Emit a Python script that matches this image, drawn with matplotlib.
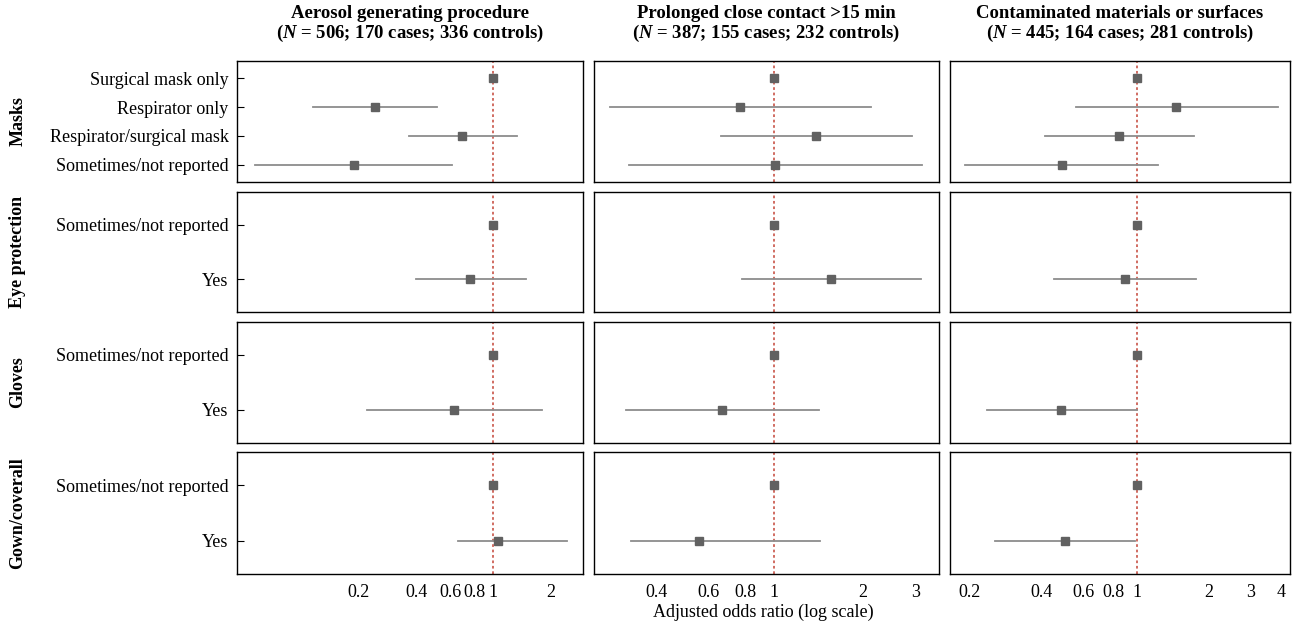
import matplotlib
matplotlib.use('Agg')
import matplotlib.pyplot as plt
from matplotlib.ticker import FixedLocator, NullLocator, NullFormatter

plt.rcParams['font.family'] = ['Liberation Serif', 'DejaVu Serif']
plt.rcParams['mathtext.fontset'] = 'custom'
plt.rcParams['mathtext.it'] = 'Liberation Serif:italic:bold'
plt.rcParams['mathtext.rm'] = 'Liberation Serif:bold'

# exposure columns (two title lines each)
col_title1 = ['Aerosol generating procedure',
              'Prolonged close contact >15 min',
              'Contaminated materials or surfaces']
col_title2 = ['($N$ = 506; 170 cases; 336 controls)',
              '($N$ = 387; 155 cases; 232 controls)',
              '($N$ = 445; 164 cases; 281 controls)']

# PPE groups and levels (first level of each group is the reference)
groups = ['Masks', 'Eye protection', 'Gloves', 'Gown/coverall']
levels = [['Surgical mask only', 'Respirator only', 'Respirator/surgical mask', 'Sometimes/not reported'],
          ['Sometimes/not reported', 'Yes'],
          ['Sometimes/not reported', 'Yes'],
          ['Sometimes/not reported', 'Yes']]

# adjusted odds ratios, lower and upper 95% CI, one list per column
# order: masks (4), eye (2), gloves (2), gown (2)
aer_or = [1, 0.243, 0.69, 0.189, 1, 0.76, 1, 0.63, 1, 1.06]
aer_lo = [None, 0.116, 0.368, 0.058, None, 0.399, None, 0.222, None, 0.66]
aer_hi = [None, 0.511, 1.33, 0.615, None, 1.48, None, 1.79, None, 2.42]

pcc_or = [1, 0.764, 1.39, 1.01, 1, 1.56, 1, 0.669, 1, 0.555]
pcc_lo = [None, 0.278, 0.659, 0.324, None, 0.781, None, 0.315, None, 0.327]
pcc_hi = [None, 2.12, 2.93, 3.17, None, 3.14, None, 1.42, None, 1.43]

con_or = [1, 1.46, 0.843, 0.487, 1, 0.893, 1, 0.481, 1, 0.50]
con_lo = [None, 0.557, 0.413, 0.19, None, 0.448, None, 0.236, None, 0.255]
con_hi = [None, 3.88, 1.74, 1.23, None, 1.77, None, 1.0, None, 0.98]

col_data = [(aer_or, aer_lo, aer_hi), (pcc_or, pcc_lo, pcc_hi), (con_or, con_lo, con_hi)]
col_xlim = [(0.047, 2.93), (0.246, 3.61), (0.165, 4.37)]
col_ticks = [[0.2, 0.4, 0.6, 0.8, 1, 2],
             [0.4, 0.6, 0.8, 1, 2, 3],
             [0.2, 0.4, 0.6, 0.8, 1, 2, 3, 4]]
col_ticklabels = [['0.2', '0.4', '0.6', '0.8', '1', '2'],
                  ['0.4', '0.6', '0.8', '1', '2', '3'],
                  ['0.2', '0.4', '0.6', '0.8', '1', '2', '3', '4']]

W, H = 1293, 634
fig = plt.figure(figsize=(W / 100, H / 100), dpi=100)

col_px = [(237, 583), (594, 939), (950, 1290)]
row_px = [(61, 182), (192, 312), (322, 443), (452, 574)]

for c in range(3):
    ors, los, his = col_data[c]
    k = 0
    for r in range(4):
        x0, x1 = col_px[c]
        y0, y1 = row_px[r]
        ax = fig.add_axes([x0 / W, 1 - y1 / H, (x1 - x0) / W, (y1 - y0) / H])
        n = len(levels[r])
        ax.set_xscale('log')
        ax.set_xlim(*col_xlim[c])
        ax.set_ylim(n - 1 + 0.6, -0.6)
        ax.axvline(1, color='#c0392b', linestyle=(0, (1.5, 1.5)), linewidth=1.3, alpha=0.8, zorder=1)
        for i in range(n):
            if los[k] is not None:
                ax.plot([los[k], his[k]], [i, i], color='#8c8c8c', linewidth=1.3, zorder=2)
            ax.plot(ors[k], i, marker='s', color='#616161', markersize=6, zorder=3)
            k += 1
        for sp in ax.spines.values():
            sp.set_color('black')
            sp.set_linewidth(1.0)
        ax.xaxis.set_minor_locator(NullLocator())
        ax.xaxis.set_minor_formatter(NullFormatter())
        if r == 3:
            ax.xaxis.set_major_locator(FixedLocator(col_ticks[c]))
            ax.set_xticklabels(col_ticklabels[c])
            ax.tick_params(axis='x', length=0, labelsize=13, pad=7)
        else:
            ax.set_xticks([])
        if c == 0:
            ax.set_yticks(range(n))
            ax.set_yticklabels(levels[r])
            ax.tick_params(axis='y', direction='in', length=5, labelsize=13, pad=6)
            fig.text(18 / W, 1 - (y0 + y1) / 2 / H, groups[r], rotation=90,
                     ha='center', va='center', fontsize=13, fontweight='bold')
        else:
            ax.set_yticks([])
    xc = (col_px[c][0] + col_px[c][1]) / 2 / W
    fig.text(xc, 1 - 13 / H, col_title1[c], ha='center', va='center',
             fontsize=13.5, fontweight='bold')
    fig.text(xc, 1 - 33 / H, col_title2[c], ha='center', va='center',
             fontsize=13.5, fontweight='bold')

fig.text((237 + 1290) / 2 / W, 1 - 612 / H, 'Adjusted odds ratio (log scale)',
         ha='center', va='center', fontsize=13)

fig.savefig('out.png', dpi=100)
